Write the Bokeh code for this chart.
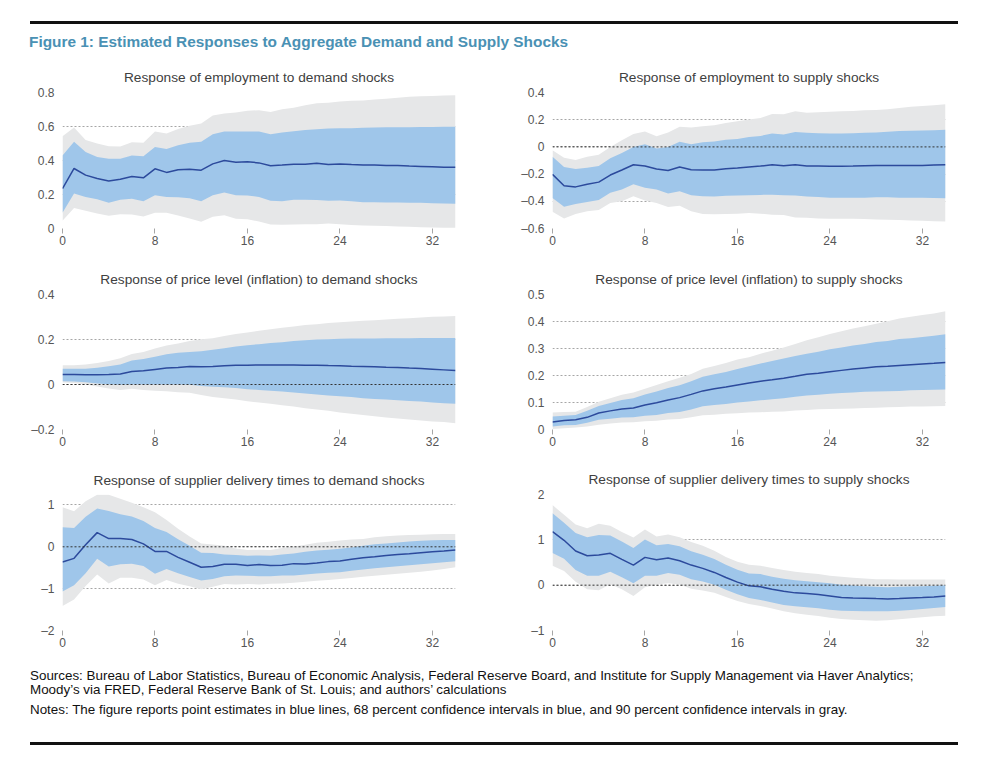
from bokeh.plotting import figure
from bokeh.layouts import column, row
from bokeh.models import Div, Span, Range1d, FixedTicker
from bokeh.embed import file_html
from bokeh.resources import INLINE

FONT = "Liberation Sans"

horizon = list(range(35))
x_ticks = [0, 8, 16, 24, 32]

# ---------- Response of employment to demand shocks ----------
emp_dem_est = [0.235, 0.353, 0.314, 0.294, 0.280, 0.290, 0.306, 0.298, 0.351, 0.330, 0.345, 0.349,
               0.343, 0.380, 0.400, 0.390, 0.392, 0.386, 0.369, 0.373, 0.378, 0.378, 0.384, 0.376,
               0.380, 0.376, 0.373, 0.374, 0.370, 0.370, 0.367, 0.365, 0.363, 0.361, 0.361]
emp_dem_hi68 = [0.430, 0.510, 0.450, 0.420, 0.410, 0.410, 0.430, 0.425, 0.480, 0.467, 0.490, 0.504,
                0.510, 0.555, 0.570, 0.570, 0.570, 0.570, 0.555, 0.565, 0.572, 0.580, 0.584, 0.588,
                0.590, 0.590, 0.592, 0.594, 0.595, 0.596, 0.596, 0.597, 0.597, 0.598, 0.598]
emp_dem_lo68 = [0.092, 0.206, 0.186, 0.172, 0.151, 0.169, 0.175, 0.161, 0.196, 0.186, 0.184, 0.178,
                0.161, 0.196, 0.212, 0.196, 0.194, 0.186, 0.163, 0.161, 0.169, 0.169, 0.167, 0.163,
                0.165, 0.161, 0.155, 0.155, 0.153, 0.153, 0.151, 0.151, 0.149, 0.147, 0.145]
emp_dem_hi90 = [0.543, 0.594, 0.520, 0.500, 0.484, 0.482, 0.508, 0.504, 0.570, 0.559, 0.586, 0.604,
                0.618, 0.665, 0.676, 0.682, 0.692, 0.696, 0.686, 0.702, 0.710, 0.725, 0.737, 0.739,
                0.747, 0.751, 0.753, 0.759, 0.763, 0.769, 0.775, 0.778, 0.780, 0.782, 0.784]
emp_dem_lo90 = [0.045, 0.120, 0.104, 0.088, 0.075, 0.084, 0.082, 0.071, 0.092, 0.092, 0.076, 0.059,
                0.039, 0.069, 0.078, 0.057, 0.055, 0.041, 0.024, 0.022, 0.024, 0.025, 0.025, 0.029,
                0.025, 0.020, 0.018, 0.016, 0.014, 0.012, 0.010, 0.008, 0.006, 0.005, 0.004]

# ---------- Response of employment to supply shocks ----------
emp_sup_est = [-0.202, -0.286, -0.294, -0.274, -0.259, -0.207, -0.170, -0.131, -0.141, -0.163, -0.173,
               -0.148, -0.168, -0.170, -0.170, -0.160, -0.156, -0.148, -0.141, -0.131, -0.138, -0.131,
               -0.141, -0.141, -0.143, -0.143, -0.141, -0.138, -0.136, -0.136, -0.136, -0.136, -0.136,
               -0.133, -0.131]
emp_sup_hi68 = [-0.072, -0.148, -0.163, -0.153, -0.141, -0.084, -0.044, 0.000, 0.020, -0.012, 0.000,
                0.037, 0.020, 0.035, 0.040, 0.052, 0.059, 0.072, 0.081, 0.099, 0.091, 0.109, 0.104,
                0.101, 0.099, 0.099, 0.101, 0.104, 0.106, 0.111, 0.116, 0.119, 0.121, 0.123, 0.126]
emp_sup_lo68 = [-0.375, -0.440, -0.420, -0.405, -0.390, -0.338, -0.314, -0.274, -0.301, -0.314, -0.343,
                -0.326, -0.356, -0.363, -0.365, -0.360, -0.358, -0.356, -0.353, -0.351, -0.356, -0.358,
                -0.365, -0.368, -0.373, -0.373, -0.373, -0.373, -0.370, -0.370, -0.373, -0.373, -0.373,
                -0.375, -0.378]
emp_sup_hi90 = [-0.025, -0.079, -0.096, -0.072, -0.057, 0.000, 0.049, 0.094, 0.114, 0.079, 0.106,
                0.148, 0.143, 0.151, 0.160, 0.175, 0.188, 0.202, 0.212, 0.242, 0.240, 0.262, 0.252,
                0.254, 0.259, 0.262, 0.264, 0.269, 0.272, 0.277, 0.286, 0.296, 0.301, 0.306, 0.314]
emp_sup_lo90 = [-0.477, -0.526, -0.494, -0.474, -0.464, -0.412, -0.400, -0.363, -0.395, -0.412, -0.442,
                -0.432, -0.474, -0.494, -0.496, -0.494, -0.491, -0.486, -0.491, -0.499, -0.501, -0.519,
                -0.521, -0.526, -0.528, -0.528, -0.528, -0.531, -0.533, -0.536, -0.538, -0.541, -0.543,
                -0.546, -0.548]

# ---------- Response of price level (inflation) to demand shocks ----------
prc_dem_est = [0.044, 0.044, 0.043, 0.043, 0.044, 0.047, 0.058, 0.061, 0.067, 0.073, 0.076, 0.080,
               0.079, 0.080, 0.083, 0.086, 0.086, 0.087, 0.087, 0.087, 0.087, 0.086, 0.086, 0.084,
               0.083, 0.081, 0.080, 0.079, 0.077, 0.076, 0.073, 0.071, 0.068, 0.065, 0.062]
prc_dem_hi68 = [0.070, 0.070, 0.070, 0.074, 0.081, 0.089, 0.107, 0.113, 0.123, 0.135, 0.141, 0.145,
                0.148, 0.154, 0.161, 0.169, 0.175, 0.179, 0.185, 0.188, 0.193, 0.197, 0.200, 0.201,
                0.203, 0.204, 0.205, 0.205, 0.206, 0.206, 0.206, 0.207, 0.207, 0.207, 0.207]
prc_dem_lo68 = [0.015, 0.013, 0.010, 0.004, 0.001, -0.001, 0.000, 0.000, 0.000, 0.000, 0.000, -0.001,
                -0.007, -0.010, -0.012, -0.015, -0.021, -0.024, -0.028, -0.031, -0.036, -0.040, -0.044,
                -0.049, -0.052, -0.056, -0.061, -0.064, -0.067, -0.070, -0.073, -0.076, -0.080, -0.083,
                -0.086]
prc_dem_hi90 = [0.086, 0.086, 0.089, 0.096, 0.105, 0.117, 0.136, 0.144, 0.160, 0.173, 0.182, 0.193,
                0.201, 0.206, 0.216, 0.225, 0.231, 0.239, 0.246, 0.252, 0.258, 0.264, 0.268, 0.273,
                0.277, 0.280, 0.283, 0.286, 0.289, 0.292, 0.295, 0.298, 0.301, 0.302, 0.304]
prc_dem_lo90 = [0.009, 0.007, 0.000, -0.009, -0.018, -0.024, -0.019, -0.024, -0.028, -0.030, -0.034,
                -0.037, -0.047, -0.055, -0.061, -0.067, -0.074, -0.080, -0.086, -0.092, -0.098, -0.105,
                -0.111, -0.117, -0.124, -0.130, -0.135, -0.141, -0.147, -0.151, -0.156, -0.160, -0.164,
                -0.167, -0.172]

# ---------- Response of price level (inflation) to supply shocks ----------
prc_sup_est = [0.028, 0.033, 0.036, 0.045, 0.061, 0.069, 0.076, 0.080, 0.091, 0.099, 0.109, 0.118,
               0.130, 0.143, 0.151, 0.157, 0.165, 0.172, 0.179, 0.184, 0.190, 0.197, 0.205, 0.208,
               0.214, 0.219, 0.224, 0.228, 0.232, 0.234, 0.237, 0.240, 0.243, 0.245, 0.248]
prc_sup_hi68 = [0.048, 0.051, 0.054, 0.069, 0.087, 0.098, 0.109, 0.116, 0.130, 0.141, 0.154, 0.164,
                0.179, 0.195, 0.205, 0.213, 0.224, 0.234, 0.244, 0.254, 0.263, 0.272, 0.281, 0.288,
                0.297, 0.304, 0.311, 0.317, 0.324, 0.328, 0.335, 0.338, 0.343, 0.347, 0.353]
prc_sup_lo68 = [0.011, 0.016, 0.017, 0.025, 0.036, 0.040, 0.044, 0.045, 0.051, 0.054, 0.061, 0.065,
                0.074, 0.086, 0.091, 0.094, 0.100, 0.104, 0.108, 0.112, 0.116, 0.121, 0.126, 0.129,
                0.132, 0.135, 0.137, 0.140, 0.141, 0.142, 0.143, 0.145, 0.146, 0.147, 0.148]
prc_sup_hi90 = [0.063, 0.065, 0.066, 0.083, 0.103, 0.116, 0.129, 0.137, 0.151, 0.165, 0.179, 0.192,
                0.206, 0.225, 0.235, 0.246, 0.259, 0.268, 0.281, 0.292, 0.304, 0.317, 0.331, 0.342,
                0.354, 0.364, 0.374, 0.382, 0.392, 0.401, 0.411, 0.418, 0.424, 0.430, 0.438]
prc_sup_lo90 = [0.002, 0.005, 0.007, 0.011, 0.018, 0.022, 0.026, 0.027, 0.031, 0.032, 0.037, 0.039,
                0.045, 0.053, 0.055, 0.058, 0.060, 0.063, 0.064, 0.066, 0.067, 0.070, 0.072, 0.075,
                0.076, 0.077, 0.078, 0.080, 0.081, 0.082, 0.083, 0.085, 0.085, 0.086, 0.087]

# ---------- Response of supplier delivery times to demand shocks ----------
del_dem_est = [-0.362, -0.276, 0.047, 0.339, 0.197, 0.197, 0.173, 0.071, -0.110, -0.110, -0.252,
               -0.370, -0.488, -0.472, -0.417, -0.417, -0.449, -0.425, -0.449, -0.441, -0.402, -0.409,
               -0.386, -0.354, -0.339, -0.299, -0.260, -0.236, -0.205, -0.181, -0.165, -0.142, -0.118,
               -0.102, -0.079]
del_dem_hi68 = [0.465, 0.449, 0.717, 0.913, 0.858, 0.780, 0.724, 0.614, 0.449, 0.354, 0.181, 0.024,
                -0.142, -0.150, -0.181, -0.197, -0.213, -0.205, -0.213, -0.181, -0.157, -0.118, -0.087,
                -0.071, -0.047, -0.016, 0.024, 0.063, 0.079, 0.102, 0.126, 0.142, 0.157, 0.165, 0.165]
del_dem_lo68 = [-1.071, -0.921, -0.630, -0.283, -0.472, -0.417, -0.402, -0.457, -0.646, -0.528, -0.630,
                -0.724, -0.803, -0.772, -0.701, -0.685, -0.693, -0.701, -0.701, -0.685, -0.685, -0.661,
                -0.638, -0.622, -0.606, -0.575, -0.543, -0.512, -0.488, -0.465, -0.441, -0.417, -0.394,
                -0.370, -0.346]
del_dem_hi90 = [0.945, 0.850, 1.087, 1.244, 1.244, 1.150, 1.055, 0.945, 0.827, 0.638, 0.433, 0.244,
                0.079, 0.055, 0.024, -0.039, -0.079, -0.071, -0.079, -0.031, 0.008, 0.047, 0.094,
                0.118, 0.150, 0.173, 0.189, 0.228, 0.252, 0.268, 0.283, 0.291, 0.299, 0.307, 0.307]
del_dem_lo90 = [-1.417, -1.260, -0.937, -0.661, -0.874, -0.740, -0.740, -0.780, -0.921, -0.795, -0.882,
                -0.945, -1.016, -0.953, -0.890, -0.898, -0.890, -0.898, -0.882, -0.874, -0.858, -0.835,
                -0.811, -0.795, -0.772, -0.748, -0.717, -0.693, -0.669, -0.646, -0.622, -0.598, -0.567,
                -0.528, -0.488]

# ---------- Response of supplier delivery times to supply shocks ----------
del_sup_est = [1.183, 0.990, 0.754, 0.650, 0.665, 0.702, 0.569, 0.443, 0.613, 0.562, 0.599, 0.540,
               0.443, 0.370, 0.281, 0.170, 0.067, -0.015, -0.037, -0.089, -0.133, -0.170, -0.185,
               -0.207, -0.237, -0.273, -0.281, -0.288, -0.296, -0.303, -0.296, -0.281, -0.273, -0.259,
               -0.237]
del_sup_hi68 = [1.589, 1.375, 1.153, 1.057, 1.109, 1.094, 0.961, 0.820, 1.005, 0.880, 0.909, 0.857,
                0.746, 0.673, 0.576, 0.451, 0.340, 0.259, 0.244, 0.185, 0.140, 0.111, 0.089, 0.067,
                0.044, 0.007, -0.007, -0.022, -0.037, -0.044, -0.037, -0.030, -0.022, -0.015, 0.000]
del_sup_lo68 = [0.710, 0.584, 0.333, 0.207, 0.207, 0.296, 0.177, 0.044, 0.207, 0.207, 0.266, 0.229,
                0.133, 0.081, 0.007, -0.103, -0.200, -0.281, -0.325, -0.384, -0.436, -0.466, -0.488,
                -0.510, -0.540, -0.562, -0.569, -0.576, -0.576, -0.576, -0.562, -0.547, -0.525, -0.503,
                -0.480]
del_sup_hi90 = [1.766, 1.552, 1.338, 1.256, 1.353, 1.308, 1.175, 1.050, 1.227, 1.072, 1.116, 1.057,
                0.953, 0.872, 0.761, 0.621, 0.517, 0.451, 0.429, 0.377, 0.333, 0.296, 0.266, 0.244,
                0.207, 0.185, 0.163, 0.148, 0.133, 0.133, 0.126, 0.126, 0.126, 0.126, 0.126]
del_sup_lo90 = [0.429, 0.310, 0.074, -0.089, -0.111, 0.022, -0.089, -0.237, -0.044, 0.015, 0.044,
                0.015, -0.081, -0.118, -0.170, -0.259, -0.347, -0.414, -0.458, -0.517, -0.576, -0.621,
                -0.650, -0.680, -0.717, -0.746, -0.761, -0.776, -0.783, -0.776, -0.754, -0.732, -0.710,
                -0.687, -0.673]

# ---------- axis ticks / labels ----------
yt_emp_dem = [0, 0.2, 0.4, 0.6, 0.8]
yl_emp_dem = ["0", "0.2", "0.4", "0.6", "0.8"]
yt_emp_sup = [-0.6, -0.4, -0.2, 0, 0.2, 0.4]
yl_emp_sup = ["\u20130.6", "\u20130.4", "\u20130.2", "0", "0.2", "0.4"]
yt_prc_dem = [-0.2, 0, 0.2, 0.4]
yl_prc_dem = ["\u20130.2", "0", "0.2", "0.4"]
yt_prc_sup = [0, 0.1, 0.2, 0.3, 0.4, 0.5]
yl_prc_sup = ["0", "0.1", "0.2", "0.3", "0.4", "0.5"]
yt_del_dem = [-2, -1, 0, 1]
yl_del_dem = ["\u20132", "\u20131", "0", "1"]
yt_del_sup = [-1, 0, 1, 2]
yl_del_sup = ["\u20131", "0", "1", "2"]

titles = ["Response of employment to demand shocks",
          "Response of employment to supply shocks",
          "Response of price level (inflation) to demand shocks",
          "Response of price level (inflation) to supply shocks",
          "Response of supplier delivery times to demand shocks",
          "Response of supplier delivery times to supply shocks"]

GRAY = "#e6e7e8"
BLUE = "#9fc6ea"
LINE = "#2c4a9c"


def panel(title, est, lo68, hi68, lo90, hi90, yr, yt, yl, zero_line, side, height, top, bottom, standoff):
    if side == "L":
        width, left, right = 495, 62, 40
    else:
        width, left, right = 487, 57, 37
    p = figure(width=width, height=height, x_range=Range1d(0, 34), y_range=Range1d(*yr),
               output_backend="svg", toolbar_location=None,
               min_border_left=left, min_border_right=right,
               min_border_top=top, min_border_bottom=bottom)
    p.outline_line_color = None
    p.background_fill_color = "white"
    p.border_fill_color = "white"
    p.title.text = title
    p.title.align = "center"
    p.title.text_font = FONT
    p.title.text_font_size = "13.7px"
    p.title.text_font_style = "normal"
    p.title.text_color = "#404040"
    p.title.standoff = standoff

    p.varea(x=horizon, y1=lo90, y2=hi90, fill_color=GRAY)
    p.varea(x=horizon, y1=lo68, y2=hi68, fill_color=BLUE)
    p.line(horizon, est, line_color=LINE, line_width=1.5)
    if zero_line:
        p.add_layout(Span(location=0, dimension="width", line_color="#333333",
                          line_dash="2 2", line_width=1))

    p.xgrid.visible = False
    p.ygrid.ticker = FixedTicker(ticks=yt)
    p.ygrid.grid_line_color = "#a6a6a6"
    p.ygrid.grid_line_dash = "2 2"
    p.ygrid.grid_line_width = 1

    xa = p.xaxis[0]
    xa.ticker = FixedTicker(ticks=x_ticks)
    xa.axis_line_color = None
    xa.major_tick_line_color = "#a6a6a6"
    xa.major_tick_out = 5
    xa.major_tick_in = 0
    xa.minor_tick_line_color = None
    xa.major_label_standoff = 2
    xa.major_label_text_font = FONT
    xa.major_label_text_font_size = "12px"
    xa.major_label_text_color = "#555555"

    ya = p.yaxis[0]
    ya.ticker = FixedTicker(ticks=yt)
    ya.major_label_overrides = {t: s for t, s in zip(yt, yl)}
    ya.axis_line_color = None
    ya.major_tick_line_color = None
    ya.minor_tick_line_color = None
    ya.major_tick_out = 0
    ya.major_tick_in = 0
    ya.major_label_standoff = 8
    ya.major_label_text_font = FONT
    ya.major_label_text_font_size = "12px"
    ya.major_label_text_color = "#555555"
    return p


f1 = panel(titles[0], emp_dem_est, emp_dem_lo68, emp_dem_hi68, emp_dem_lo90, emp_dem_hi90,
           (0, 0.8), yt_emp_dem, yl_emp_dem, False, "L", 202, 32, 34, 15)
f2 = panel(titles[1], emp_sup_est, emp_sup_lo68, emp_sup_hi68, emp_sup_lo90, emp_sup_hi90,
           (-0.6, 0.4), yt_emp_sup, yl_emp_sup, True, "R", 202, 32, 34, 15)
f3 = panel(titles[2], prc_dem_est, prc_dem_lo68, prc_dem_hi68, prc_dem_lo90, prc_dem_hi90,
           (-0.2, 0.4), yt_prc_dem, yl_prc_dem, True, "L", 200, 32, 33, 15)
f4 = panel(titles[3], prc_sup_est, prc_sup_lo68, prc_sup_hi68, prc_sup_lo90, prc_sup_hi90,
           (0, 0.5), yt_prc_sup, yl_prc_sup, False, "R", 200, 32, 33, 15)
f5 = panel(titles[4], del_dem_est, del_dem_lo68, del_dem_hi68, del_dem_lo90, del_dem_hi90,
           (-2, 1.25), yt_del_dem, yl_del_dem, True, "L", 202, 30, 34, 13)
f6 = panel(titles[5], del_sup_est, del_sup_lo68, del_sup_hi68, del_sup_lo90, del_sup_hi90,
           (-1, 2), yt_del_sup, yl_del_sup, True, "R", 202, 32, 34, 15)

header_title = "Figure 1: Estimated Responses to Aggregate Demand and Supply Shocks"
sources_1 = ("Sources: Bureau of Labor Statistics, Bureau of Economic Analysis, Federal Reserve Board, "
             "and Institute for Supply Management via Haver Analytics;")
sources_2 = "Moody\u2019s via FRED, Federal Reserve Bank of St. Louis; and authors\u2019 calculations"
notes = ("Notes: The figure reports point estimates in blue lines, 68 percent confidence intervals in blue, "
         "and 90 percent confidence intervals in gray.")

header = Div(width=982, height=60, margin=0, text=(
    '<div style="position:relative;width:982px;height:60px;">'
    '<div style="position:absolute;left:30px;top:21px;width:928px;height:3px;background:#111;"></div>'
    '<div style="position:absolute;left:29px;top:33px;white-space:nowrap;line-height:18px;'
    "font-family:'Liberation Sans';font-weight:bold;font-size:15.4px;color:#4a91b4;\">"
    + header_title + '</div></div>'))

footer = Div(width=982, height=94, margin=0, text=(
    '<div style="position:relative;width:982px;height:94px;">'
    '<div style="position:absolute;left:30px;top:5px;white-space:nowrap;line-height:14px;'
    "font-family:'Liberation Sans';font-size:13.4px;color:#111;\">"
    + sources_1 + '<br>' + sources_2 + '</div>'
    '<div style="position:absolute;left:30px;top:39px;white-space:nowrap;line-height:14px;'
    "font-family:'Liberation Sans';font-size:13.4px;color:#111;\">"
    + notes + '</div>'
    '<div style="position:absolute;left:30px;top:78px;width:928px;height:3px;background:#111;"></div>'
    '</div>'))

layout = column(header, row(f1, f2), row(f3, f4), row(f5, f6), footer)

open("out.html", "w").write(file_html(layout, INLINE))
